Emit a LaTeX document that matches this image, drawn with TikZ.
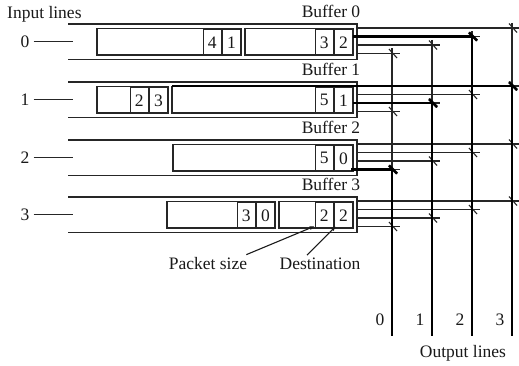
\documentclass[tikz,border=0pt]{standalone}
\usepackage{fontspec}
\setmainfont{Liberation Serif}
\usetikzlibrary{arrows.meta}
\newcommand{\pkt}[6]{%
  \draw[pkline] (#3,{#2+4.5}) rectangle (#4,{#2+31});
  \node[cell, anchor=north east] (#1d) at (#4,{#2+4.5}) {#6};
  \node[cell, anchor=north east] (#1s) at (#1d.north west) {#5};
}
\begin{document}
\begin{tikzpicture}[x=1pt,y=-1pt,
  every node/.style={font=\fontsize{17.5}{20}\selectfont, text=black!90},
  buf/.style={line width=1.3pt, draw=black!85},
  pkline/.style={line width=1.2pt, draw=black!85},
  cell/.style={draw=black!85, line width=1.2pt, minimum width=18pt, minimum height=26.5pt, inner sep=0pt},
  thinw/.style={line width=1.1pt, draw=black!85},
  thickw/.style={line width=2.8pt, draw=black},
  arr/.style={line width=1.1pt, draw=black!90, -{Latex[length=5pt,width=4pt]}},
  lbl/.style={inner sep=0pt, anchor=base}]
\useasboundingbox (0,0) rectangle (519,366);
\fill[white] (0,0) rectangle (519,366);

% labels
\node[lbl, anchor=base west] (inlab) at (7,19) {Input lines};
\foreach \k/\t in {0/24,1/82,2/140,3/197}{
  \node[lbl] (buf\k) at (331,{\t-6}) {Buffer \k};
  \draw[buf] (68,\t) -- (357,\t) -- (357,{\t+35.5}) -- (68,{\t+35.5});
  \node[inner sep=0pt] (in\k) at (25,{\t+17.7}) {\k};
  \draw[buf] ([xshift=4pt]in\k.east) -- (73,{\t+17.7});
}

% packets
\pkt{aa}{24}{97}{241}{4}{1}
\pkt{ab}{24}{245}{353}{3}{2}
\pkt{ba}{82}{97}{168}{2}{3}
\pkt{bb}{82}{172}{353}{5}{1}
\pkt{cb}{140}{173}{353}{5}{0}
\pkt{da}{197}{167}{275}{3}{0}
\pkt{db}{197}{279}{353}{2}{2}

% columns
\foreach \c in {0,1,2,3}{
  \pgfmathsetmacro{\xc}{392+40*\c}
  \pgfmathsetmacro{\ytop}{24+4+8.5*(3-\c)-5}
  \draw[thinw] (\xc,\ytop) -- (\xc,336);
  \node[lbl] (out\c) at ({\xc-12},325) {\c};
}
\node[lbl] (outlab) at (463,357) {Output lines};

% crosspoint lines
\foreach \t in {24,82,140,197}{
  \foreach \j in {0,1,2,3}{
    \pgfmathsetmacro{\yy}{\t+4+8.5*\j}
    \pgfmathsetmacro{\xc}{392+40*(3-\j)}
    \draw[thinw] (357,\yy) -- ({\xc+8},\yy);
    \draw[thinw] ({\xc-3},{\yy-4.5}) -- ({\xc+5},{\yy+4.5});
  }
}

% active connections
\draw[thickw] (392,169.5) -- (392,336);
\draw[thickw] (432,103) -- (432,336);
\draw[thickw] (472,36.5) -- (472,336);
\draw[thickw] (512,86) -- (512,336);
\draw[thickw] (353,36.5) -- (472,36.5);
\draw[thickw] (469,32.5) -- (477,40.5);
\draw[line width=2.2pt, draw=black] (172,86.2) -- (512,86.2);
\draw[thickw] (509,82) -- (517,90);
\draw[thickw] (353,103) -- (432,103);
\draw[thickw] (429,99) -- (437,107);
\draw[thickw] (351,169.5) -- (392,169.5);
\draw[thickw] (389,165.5) -- (397,173.5);

% annotations
\node[lbl] (psize) at (208,269) {Packet size};
\node[lbl] (dest) at (320,269) {Destination};
\draw[arr] ([xshift=-1pt,yshift=2pt]psize.north east) -- ([xshift=0pt,yshift=3pt]dbs.south west);
\draw[arr] ([xshift=-13pt,yshift=2pt]dest.north) -- ([xshift=2pt,yshift=3pt]dbd.south west);
\end{tikzpicture}
\end{document}
